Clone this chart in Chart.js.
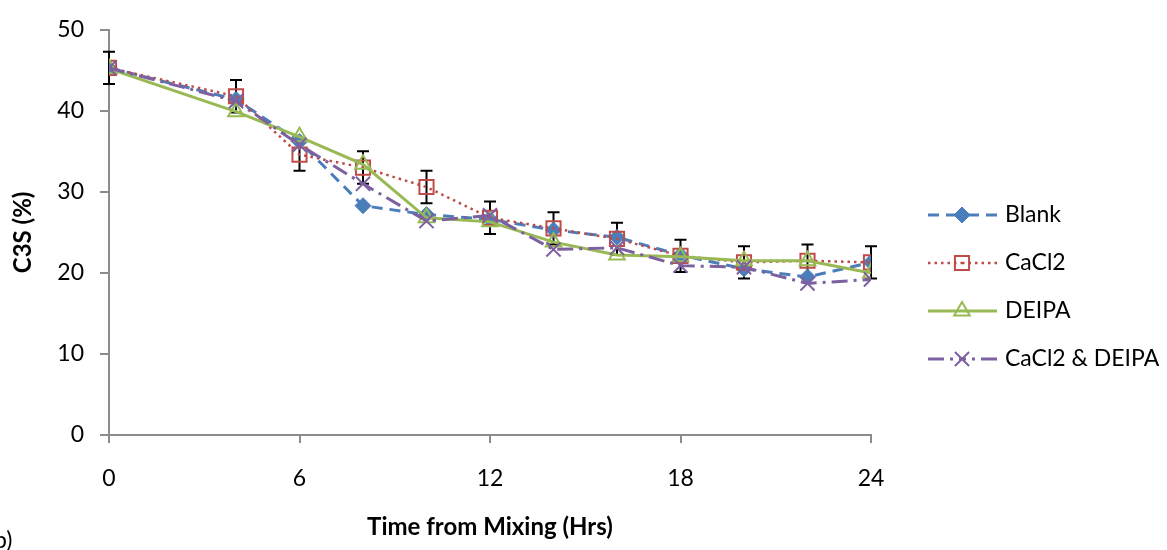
<!DOCTYPE html>
<html>
<head>
<meta charset="utf-8">
<script src="https://cdn.jsdelivr.net/npm/chart.js@4/dist/chart.umd.min.js"></script>
<style>
  body { margin: 0; background: #fff; overflow: hidden; }
  #wrap { position: relative; width: 1167px; height: 550px; }
  #panel { position: absolute; left: -6px; top: 525px; font: 23px Lato, sans-serif; color: #000; }
</style>
</head>
<body>
<div id="wrap">
  <canvas id="myChart" width="1167" height="550"></canvas>
  <div id="panel">b)</div>
</div>
<script>
// hours after mixing
const times = [0, 4, 6, 8, 10, 12, 14, 16, 18, 20, 22, 24];
const blank = [45.3, 41.4, 36.2, 28.3, 27.2, 26.6, 25.3, 24.4, 22.2, 20.5, 19.5, 21.3];
const cacl2 = [45.3, 41.8, 34.6, 33.0, 30.6, 26.8, 25.5, 24.2, 22.1, 21.3, 21.5, 21.3];
const cacl2Err = [2, 2, 2, 2, 2, 2, 2, 2, 2, 2, 2, 2];
const deipa = [45.2, 39.9, 36.8, 33.4, 26.8, 26.3, 23.8, 22.2, 22.0, 21.5, 21.5, 20.0];
const mixed = [45.3, 41.2, 35.8, 31.0, 26.4, 27.1, 22.9, 23.1, 20.9, 20.7, 18.7, 19.2];
const xTicks = [0, 6, 12, 18, 24];
const yTicks = [0, 10, 20, 30, 40, 50];

const FONT = 'Lato';
const axisColor = '#8c8c8c';

function pts(vals) {
    return times.map((t, i) => ({x: t, y: vals[i]}));
}

// black error bars on the CaCl2 series
const errorBars = {
    id: 'errorBars',
    beforeDatasetsDraw(chart) {
        const ctx = chart.ctx;
        const xs = chart.scales.x, ys = chart.scales.y;
        ctx.save();
        ctx.strokeStyle = '#000';
        ctx.lineWidth = 2;
        for (let i = 0; i < times.length; i++) {
            const x = xs.getPixelForValue(times[i]);
            const top = ys.getPixelForValue(cacl2[i] + cacl2Err[i]);
            const bot = ys.getPixelForValue(cacl2[i] - cacl2Err[i]);
            ctx.beginPath();
            ctx.moveTo(x, top); ctx.lineTo(x, bot);
            ctx.moveTo(x - 6, top); ctx.lineTo(x + 6, top);
            ctx.moveTo(x - 6, bot); ctx.lineTo(x + 6, bot);
            ctx.stroke();
        }
        ctx.restore();
    }
};

// excel-like legend: line sample with marker in the middle
const sideLegend = {
    id: 'sideLegend',
    afterDraw(chart) {
        const ctx = chart.ctx;
        const x0 = 928, x1 = 997, mx = 962, tx = 1005;
        const rowY = [215, 263, 311, 359];
        chart.data.datasets.forEach((ds, i) => {
            const y = rowY[i];
            ctx.save();
            ctx.strokeStyle = ds.borderColor;
            ctx.lineWidth = ds.borderWidth;
            ctx.setLineDash(ds.borderDash || []);
            ctx.beginPath();
            ctx.moveTo(x0, y); ctx.lineTo(mx, y);
            ctx.moveTo(x1, y); ctx.lineTo(mx, y);
            ctx.stroke();
            ctx.restore();

            ctx.save();
            ctx.fillStyle = ds.pointBackgroundColor;
            ctx.strokeStyle = ds.pointBorderColor;
            ctx.lineWidth = ds.pointBorderWidth;
            Chart.helpers.drawPoint(ctx, {
                pointStyle: ds.pointStyle,
                radius: ds.pointRadius,
                borderWidth: ds.pointBorderWidth
            }, mx, y);
            ctx.restore();

            ctx.save();
            ctx.fillStyle = '#000';
            ctx.font = '23px ' + FONT;
            ctx.textBaseline = 'middle';
            ctx.fillText(ds.label, tx, y);
            ctx.restore();
        });
    }
};

const ctx = document.getElementById('myChart').getContext('2d');
const myChart = new Chart(ctx, {
    type: 'scatter',
    data: {
        datasets: [{
            label: 'Blank',
            data: pts(blank),
            showLine: true,
            borderColor: '#4a7ebb',
            borderWidth: 3,
            borderDash: [11, 7],
            pointStyle: 'rectRot',
            pointRadius: 8,
            pointBackgroundColor: '#4a7ebb',
            pointBorderColor: '#4a7ebb',
            pointBorderWidth: 1,
            order: 4
        }, {
            label: 'CaCl2',
            data: pts(cacl2),
            showLine: true,
            borderColor: '#be4b48',
            borderWidth: 2.5,
            borderDash: [2.5, 4],
            pointStyle: 'rect',
            pointRadius: 10,
            pointBackgroundColor: 'rgba(0,0,0,0)',
            pointBorderColor: '#be4b48',
            pointBorderWidth: 2,
            order: 3
        }, {
            label: 'DEIPA',
            data: pts(deipa),
            showLine: true,
            borderColor: '#98b954',
            borderWidth: 3,
            borderDash: [],
            pointStyle: 'triangle',
            pointRadius: 9,
            pointBackgroundColor: 'rgba(0,0,0,0)',
            pointBorderColor: '#98b954',
            pointBorderWidth: 2,
            order: 2
        }, {
            label: 'CaCl2 & DEIPA',
            data: pts(mixed),
            showLine: true,
            borderColor: '#7d60a0',
            borderWidth: 3,
            borderDash: [16, 6, 3, 6],
            pointStyle: 'crossRot',
            pointRadius: 10,
            pointBackgroundColor: '#7d60a0',
            pointBorderColor: '#7d60a0',
            pointBorderWidth: 2,
            order: 1
        }]
    },
    options: {
        responsive: false,
        animation: false,
        events: [],
        layout: { padding: { top: 29, right: 296, left: 0, bottom: 0 } },
        plugins: {
            legend: { display: false },
            tooltip: { enabled: false }
        },
        scales: {
            x: {
                type: 'linear',
                min: 0,
                max: 24,
                afterBuildTicks: s => { s.ticks = xTicks.map(v => ({value: v})); },
                afterFit: s => { s.height = 115; },
                ticks: { color: '#000', font: { family: FONT, size: 23 }, padding: 22, maxRotation: 0 },
                grid: { drawOnChartArea: false, tickLength: 8, color: axisColor, lineWidth: 2 },
                border: { color: axisColor, width: 2 },
                title: {
                    display: true,
                    text: 'Time from Mixing (Hrs)',
                    color: '#000',
                    font: { family: FONT, size: 24, weight: 'bold' },
                    padding: { top: 0, bottom: 8 }
                }
            },
            y: {
                min: 0,
                max: 50,
                afterBuildTicks: s => { s.ticks = yTicks.map(v => ({value: v})); },
                afterFit: s => { s.width = 109; },
                ticks: { color: '#000', font: { family: FONT, size: 23 }, padding: 16 },
                grid: { drawOnChartArea: false, tickLength: 9, color: axisColor, lineWidth: 2 },
                border: { color: axisColor, width: 2 },
                title: {
                    display: true,
                    text: 'C3S (%)',
                    color: '#000',
                    font: { family: FONT, size: 24, weight: 'bold' },
                    padding: { top: 9, bottom: 0 }
                }
            }
        }
    },
    plugins: [errorBars, sideLegend]
});
</script>
</body>
</html>
